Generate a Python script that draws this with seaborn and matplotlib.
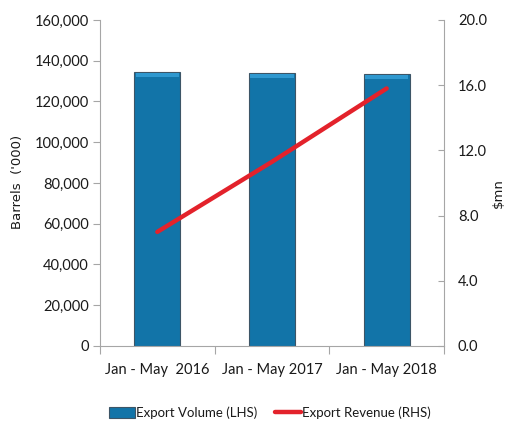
import matplotlib
matplotlib.use("Agg")
import matplotlib.pyplot as plt
from matplotlib.patches import Rectangle
from matplotlib.lines import Line2D
from matplotlib.ticker import FuncFormatter, FixedLocator
import numpy as np
import pandas as pd
import seaborn as sns

# Export data, Jan - May of each year
periods = ["Jan - May  2016", "Jan - May 2017", "Jan - May 2018"]
export_volume = [134500, 133800, 133400]      # barrels ('000), left axis
export_revenue = [7.0, 11.3, 15.8]            # $mn, right axis

volume_df = pd.DataFrame({"period": periods, "volume": export_volume})
revenue_df = pd.DataFrame({"period": periods, "revenue": export_revenue})

sns.set_style("white")
plt.rcParams["font.family"] = ["Lato", "DejaVu Sans"]

BAR_BLUE = "#1274a8"
BEVEL_BLUE = "#2f98cf"
LINE_RED = "#e3222b"
AXIS_GREY = "#a6a6a6"
TEXT = "#1a1a1a"
FS = 10.5

fig = plt.figure(figsize=(5.12, 4.26), dpi=100)
ax = fig.add_axes([0.1953, 0.1878, 0.6719, 0.7653])

sns.barplot(data=volume_df, x="period", y="volume", color=BAR_BLUE,
            width=0.4, saturation=1, edgecolor="#3d5566", linewidth=0.8, ax=ax)

# light bevel band along the top of each bar
for p in ax.patches:
    band = 2000
    ax.add_patch(Rectangle((p.get_x() + 0.012, p.get_height() - band - 300),
                           p.get_width() - 0.024, band,
                           facecolor=BEVEL_BLUE, edgecolor="none", zorder=3))

ax.set_ylim(0, 160000)
ax.set_xlim(-0.5, 2.5)
ax.yaxis.set_major_locator(FixedLocator(np.arange(0, 160001, 20000)))
ax.yaxis.set_major_formatter(FuncFormatter(lambda v, _: f"{int(v):,}"))
ax.set_xlabel("")
ax.set_ylabel("Barrels  ('000)", fontsize=9.5, color=TEXT,
              family=["DejaVu Sans"])
ax.yaxis.set_label_coords(-0.222, 0.503)
ax.tick_params(axis="y", direction="out", length=5, width=0.8,
               color=AXIS_GREY, labelsize=FS, labelcolor=TEXT, pad=3, left=True)
ax.tick_params(axis="x", which="major", length=0, labelsize=FS,
               labelcolor=TEXT, pad=12)
ax.set_xticks([-0.5, 0.5, 1.5, 2.5], minor=True)
ax.tick_params(axis="x", which="minor", direction="out", length=6,
               width=0.8, color=AXIS_GREY, bottom=True)

for side in ["top", "right"]:
    ax.spines[side].set_visible(False)
for side in ["left", "bottom"]:
    ax.spines[side].set_color(AXIS_GREY)
    ax.spines[side].set_linewidth(0.8)

ax2 = ax.twinx()
sns.lineplot(data=revenue_df, x="period", y="revenue", color=LINE_RED,
             linewidth=3.2, ax=ax2, solid_capstyle="round", sort=False)
ax2.set_ylim(0, 20)
ax2.yaxis.set_major_locator(FixedLocator(np.arange(0, 20.1, 4)))
ax2.yaxis.set_major_formatter(FuncFormatter(lambda v, _: f"{v:.1f}"))
ax2.set_ylabel("$mn", fontsize=9.5, color=TEXT, family=["DejaVu Sans"])
ax2.yaxis.set_label_coords(1.14, 0.47)
ax2.tick_params(axis="y", direction="in", length=4, width=0.8,
                color=AXIS_GREY, labelsize=FS, labelcolor=TEXT, pad=10, right=True)
for side in ["top", "left", "bottom"]:
    ax2.spines[side].set_visible(False)
ax2.spines["right"].set_color(AXIS_GREY)
ax2.spines["right"].set_linewidth(0.8)
ax2.set_xlim(-0.5, 2.5)

handles = [
    Rectangle((0, 0), 1, 1, facecolor=BAR_BLUE, edgecolor="#3d5566", linewidth=0.8),
    Line2D([0], [0], color=LINE_RED, linewidth=3.2),
]
fig.legend(handles, ["Export Volume (LHS)", "Export Revenue (RHS)"],
           loc="center", bbox_to_anchor=(0.527, 0.03), ncol=2, frameon=False,
           fontsize=9.5, handlelength=2.0, handleheight=0.9, handletextpad=0.1,
           columnspacing=1.3, labelcolor=TEXT)

fig.savefig("out.png", dpi=100)
